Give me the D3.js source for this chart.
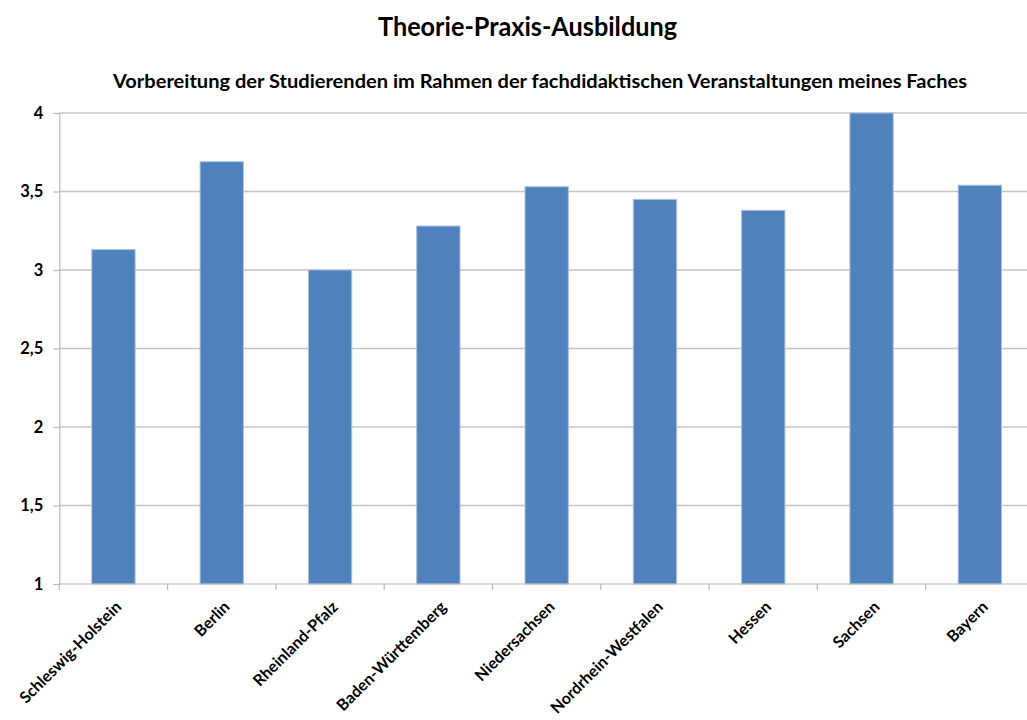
<!DOCTYPE html>
<html>
<head>
<meta charset="utf-8">
<script src="https://cdn.jsdelivr.net/npm/d3@7"></script>
<style>
  html, body { margin: 0; padding: 0; background: #fff; }
  svg { display: block; }
  text { font-family: Lato, "Open Sans", "DejaVu Sans", sans-serif; font-weight: bold; fill: #000; }
</style>
</head>
<body>
<svg id="chart" width="1027" height="720"></svg>
<script>
// Bundesländer and their mean ratings
const categories = ["Schleswig-Holstein", "Berlin", "Rheinland-Pfalz", "Baden-Württemberg",
                    "Niedersachsen", "Nordrhein-Westfalen", "Hessen", "Sachsen", "Bayern"];
const values = [3.13, 3.69, 3.0, 3.28, 3.53, 3.45, 3.38, 4.0, 3.54];
const yTicks = [1, 1.5, 2, 2.5, 3, 3.5, 4];
const title = "Theorie-Praxis-Ausbildung";
const subtitle = "Vorbereitung der Studierenden im Rahmen der fachdidaktischen Veranstaltungen meines Faches";

const svg = d3.select("#chart");
const plot = { left: 59.3, right: 1034, top: 113, bottom: 584 };

const x = d3.scaleBand()
  .domain(categories)
  .range([plot.left, plot.right])
  .paddingInner(0.6)
  .paddingOuter(0.3);

const y = d3.scaleLinear().domain([1, 4]).range([plot.bottom, plot.top]);
const fmt = d => String(d).replace(".", ",");

// Horizontal gridlines
svg.append("g")
  .selectAll("line")
  .data(yTicks.filter(t => t > 1))
  .join("line")
  .attr("x1", plot.left).attr("x2", plot.right)
  .attr("y1", d => y(d)).attr("y2", d => y(d))
  .attr("stroke", "#c4c4c4").attr("stroke-width", 1.5);

// Y axis
const yAxis = svg.append("g")
  .attr("transform", `translate(${plot.left},0)`)
  .call(d3.axisLeft(y).tickValues(yTicks).tickFormat(fmt).tickSize(6).tickPadding(10));
yAxis.select(".domain").attr("stroke", "#b8b8b8").attr("stroke-width", 1.2);
yAxis.selectAll(".tick line").attr("stroke", "#b8b8b8").attr("stroke-width", 1.2);
yAxis.selectAll(".tick text")
  .style("font-size", "16.5px").style("font-family", "Lato, 'Open Sans', sans-serif")
  .style("font-weight", "bold").attr("fill", "#000");

// Bars
svg.append("g")
  .selectAll("rect")
  .data(values)
  .join("rect")
  .attr("x", (d, i) => x(categories[i]))
  .attr("width", x.bandwidth())
  .attr("y", d => y(d))
  .attr("height", d => y(1) - y(d))
  .attr("fill", "#4f81bd")
  .attr("stroke", "#a9c1e0")
  .attr("stroke-width", 1);

// X axis baseline with boundary ticks between categories
const step = x.step();
const boundaries = d3.range(categories.length + 1).map(i => plot.left + i * step);
const xg = svg.append("g");
xg.append("line")
  .attr("x1", plot.left).attr("x2", plot.right)
  .attr("y1", plot.bottom).attr("y2", plot.bottom)
  .attr("stroke", "#b8b8b8").attr("stroke-width", 1.2);
xg.selectAll("line.tk")
  .data(boundaries)
  .join("line")
  .attr("class", "tk")
  .attr("x1", d => d).attr("x2", d => d)
  .attr("y1", plot.bottom).attr("y2", plot.bottom + 6)
  .attr("stroke", "#b8b8b8").attr("stroke-width", 1.2);

// Rotated category labels
xg.selectAll("text")
  .data(categories)
  .join("text")
  .attr("transform", d => `translate(${x(d) + x.bandwidth() / 2 + 5},${plot.bottom + 20}) rotate(-45)`)
  .attr("text-anchor", "end")
  .attr("dy", "0.35em")
  .style("font-size", "16px")
  .text(d => d);

// Titles, fitted to their widths
svg.append("text")
  .attr("x", 378).attr("y", 36)
  .attr("textLength", 299).attr("lengthAdjust", "spacingAndGlyphs")
  .style("font-size", "26px")
  .text(title);

svg.append("text")
  .attr("x", 113).attr("y", 88)
  .attr("textLength", 854).attr("lengthAdjust", "spacingAndGlyphs")
  .style("font-size", "18px")
  .text(subtitle);
</script>
</body>
</html>
